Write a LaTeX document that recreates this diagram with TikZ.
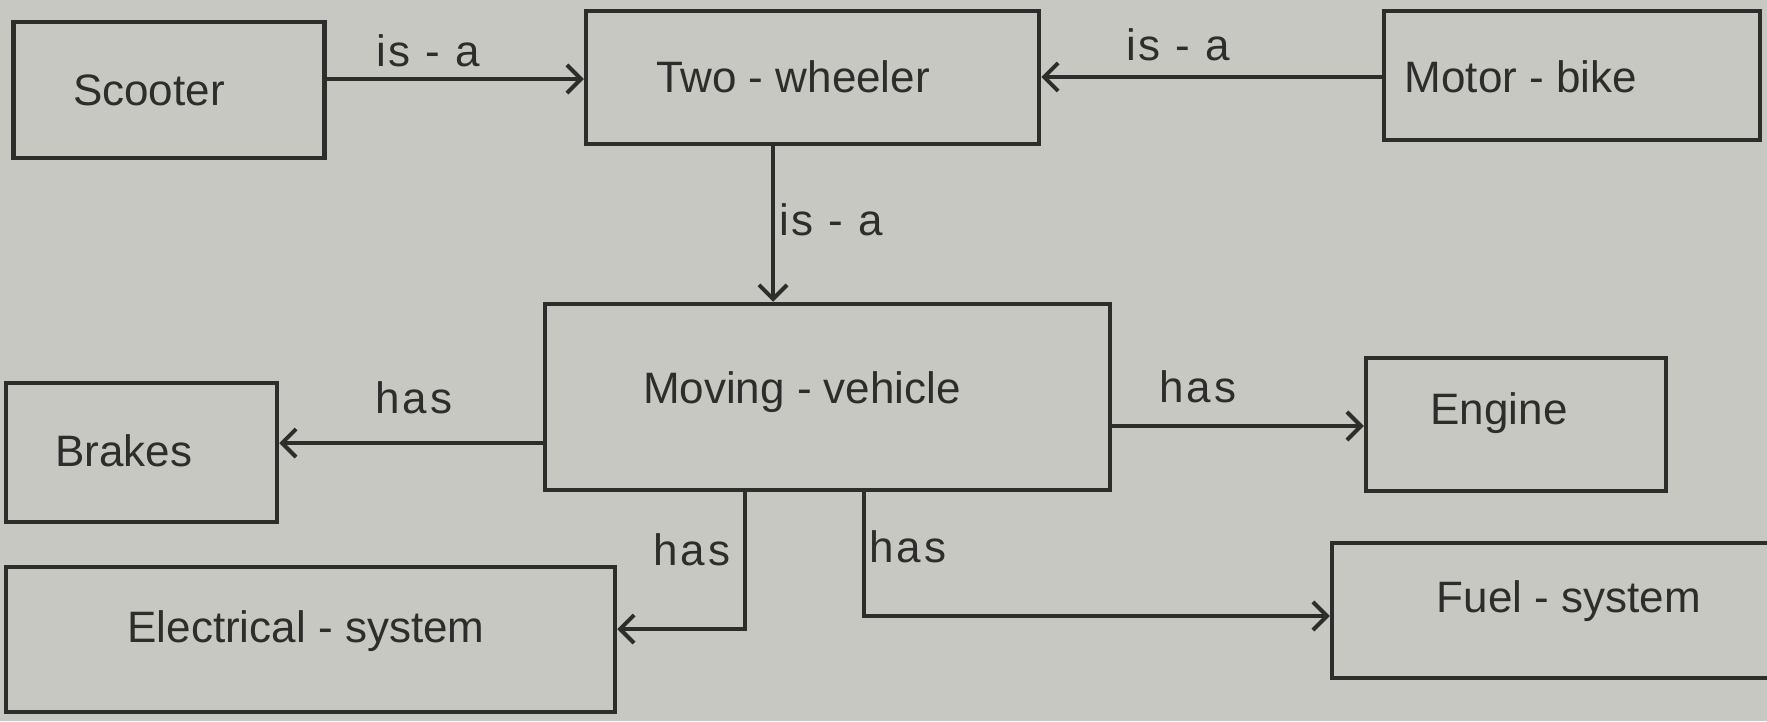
\documentclass[tikz,border=0pt]{standalone}
\usepackage{fontspec}
\setmainfont{Liberation Sans}
\usetikzlibrary{arrows.meta}
\definecolor{paper}{RGB}{200,200,195}
\definecolor{ink}{RGB}{45,45,43}
\tikzset{
  box/.style={draw=ink, line width=4.5pt, rectangle, inner sep=0pt},
  txt/.style={text=ink, font=\fontsize{44}{48}\selectfont, inner sep=0pt},
  rel/.style={text=ink, font=\fontsize{44}{48}\selectfont\addfontfeature{LetterSpace=6}, inner sep=0pt},
  arr/.style={draw=ink, line width=4.5pt, -{Straight Barb[length=14pt,width=28pt,line width=4pt]}},
}
\begin{document}
\begin{tikzpicture}[x=1pt,y=-1pt]
\fill[paper] (0,0) rectangle (1767,721);
\useasboundingbox (0,0) rectangle (1767,721);
\clip (0,0) rectangle (1767,721);
% boxes
\node[box, minimum width=311pt, minimum height=136pt] (scooter) at (169,90) {};
\node[box, minimum width=453pt, minimum height=133pt] (two) at (812.5,77.5) {};
\node[box, minimum width=376pt, minimum height=129pt] (motor) at (1572,75.5) {};
\node[box, minimum width=565pt, minimum height=186pt] (moving) at (827.5,397) {};
\node[box, minimum width=271pt, minimum height=139pt] (brakes) at (141.5,452.5) {};
\node[box, minimum width=300pt, minimum height=133pt] (engine) at (1516,424.5) {};
\node[box, minimum width=609pt, minimum height=145pt] (elec) at (310.5,639.5) {};
\node[box, minimum width=458pt, minimum height=135pt] (fuel) at (1561,610.5) {};
% box texts
\node[txt] (tscooter) at (149,90) {Scooter};
\node[txt] (ttwo) at (793,77) {Two - wheeler};
\node[txt] (tmotor) at (1521,77) {Motor - bike};
\node[txt] (tmoving) at (802,392) {Moving - vehicle};
\node[txt] (tbrakes) at (124,451) {Brakes};
\node[txt] (tengine) at (1499,413) {Engine};
\node[txt] (telec) at (306,631) {Electrical - system};
\node[txt] (tfuel) at (1569,601) {Fuel - system};
% levels
\coordinate (ya) at (0,79);
\coordinate (yb) at (0,77);
\coordinate (xc) at (773,0);
\coordinate (yd) at (0,443);
\coordinate (ye) at (0,426);
\coordinate (xf) at (745,0);
\coordinate (yf) at (0,629);
\coordinate (xg) at (864,0);
\coordinate (yg) at (0,616);
% connectors
\draw[arr] (scooter.east |- ya) -- (two.west |- ya);
\draw[arr] (motor.west |- yb) -- (two.east |- yb);
\draw[arr] (two.south -| xc) -- (moving.north -| xc);
\draw[arr] (moving.west |- yd) -- (brakes.east |- yd);
\draw[arr] (moving.east |- ye) -- (engine.west |- ye);
\draw[arr] (moving.south -| xf) -- (xf |- yf) -- (elec.east |- yf);
\draw[arr] (moving.south -| xg) -- (xg |- yg) -- (fuel.west |- yg);
% labels
\node[rel] (l1) at (428,51) {is - a};
\node[rel] (l2) at (1178,45) {is - a};
\node[rel] (l3) at (831,220) {is - a};
\node[rel] (l4) at (414,398) {has};
\node[rel] (l5) at (1198,387) {has};
\node[rel] (l6) at (692,550) {has};
\node[rel] (l7) at (908,547) {has};
\end{tikzpicture}
\end{document}
